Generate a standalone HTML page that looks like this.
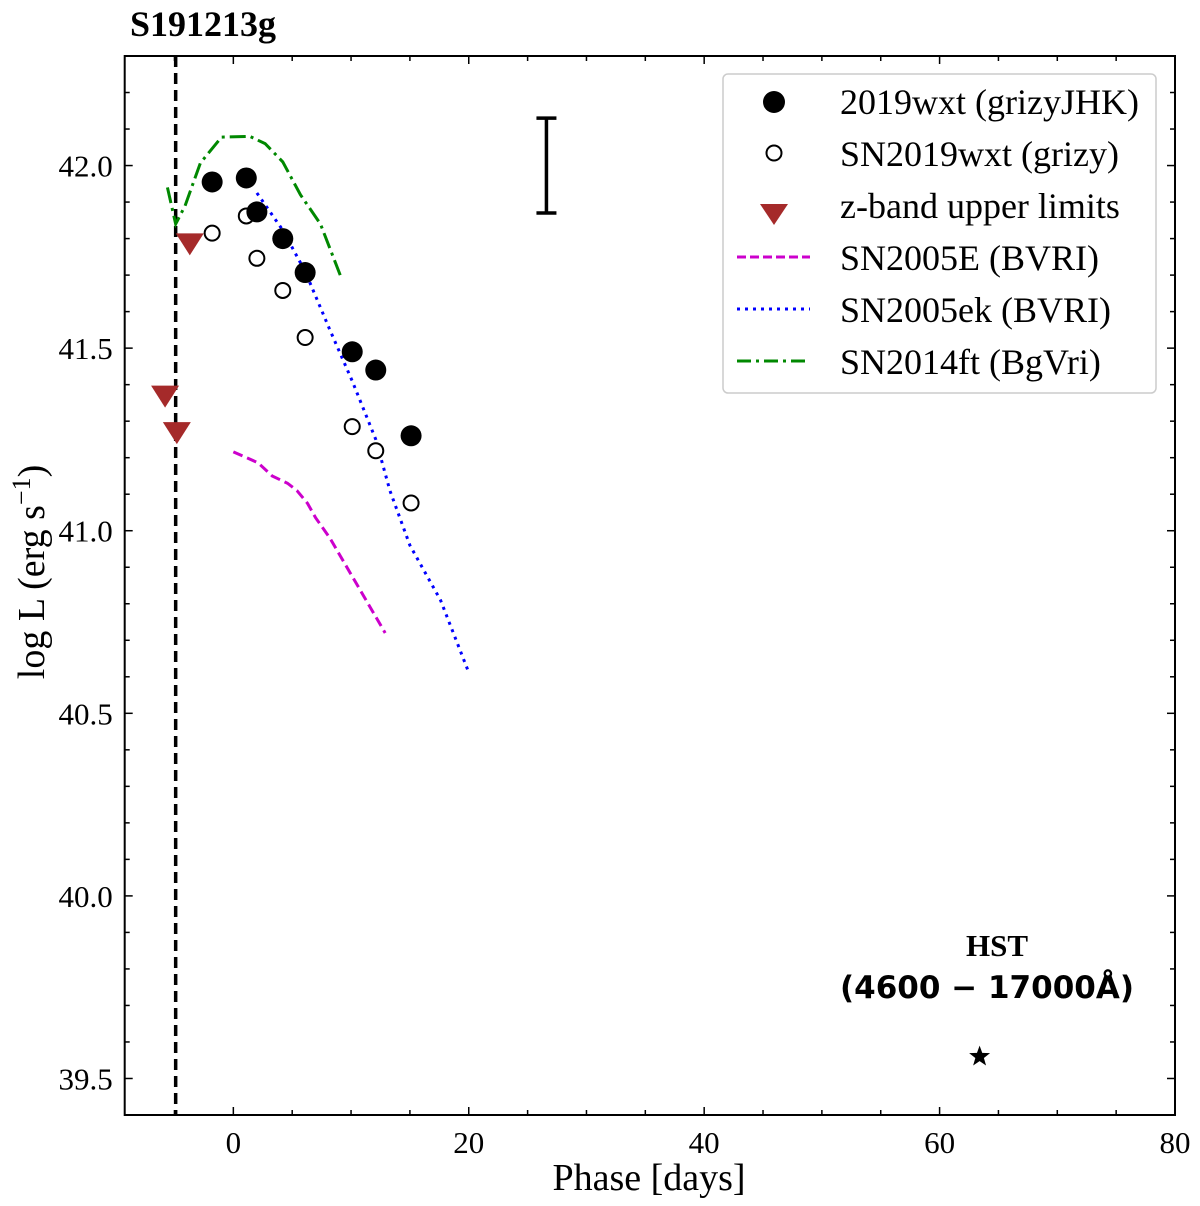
<!DOCTYPE html>
<html><head><meta charset="utf-8"><style>
html,body{margin:0;padding:0;background:#fff;}
svg{display:block;font-family:"Liberation Serif",serif;}
</style></head><body>
<svg id="chart" width="1200" height="1206" viewBox="0 0 1200 1206" xmlns="http://www.w3.org/2000/svg">
<text x="130" y="36" font-size="36" font-weight="bold">S191213g</text>
<g id="plot"></g>
<rect x="124.7" y="56" width="1050.3" height="1059" fill="none" stroke="#000" stroke-width="2"/>
<text x="649" y="1190" font-size="38" text-anchor="middle">Phase [days]</text>
<text transform="translate(44,572) rotate(-90)" font-size="38" text-anchor="middle">log L (erg s<tspan font-size="26" dy="-14">−1</tspan><tspan dy="14">)</tspan></text>
<g>
<rect x="723" y="74" width="433" height="319" rx="5" fill="#fff" stroke="#ccc" stroke-width="1.5"/>
<circle cx="774" cy="102" r="11" fill="#000"/>
<text x="840" y="114" font-size="36">2019wxt (grizyJHK)</text>
<circle cx="774" cy="153" r="7.5" fill="#fff" stroke="#000" stroke-width="2"/>
<text x="840" y="166" font-size="36">SN2019wxt (grizy)</text>
<polygon points="760,204 788,204 774,225" fill="#a52a2a"/>
<text x="840" y="218" font-size="36">z-band upper limits</text>
<line x1="737" y1="257" x2="810" y2="257" stroke="#c0c" stroke-width="3" stroke-dasharray="9,4"/>
<text x="840" y="270" font-size="36">SN2005E (BVRI)</text>
<line x1="737" y1="309" x2="810" y2="309" stroke="#00f" stroke-width="3" stroke-dasharray="3,5"/>
<text x="840" y="322" font-size="36">SN2005ek (BVRI)</text>
<line x1="737" y1="361" x2="810" y2="361" stroke="#080" stroke-width="3" stroke-dasharray="14,5,3,5"/>
<text x="840" y="374" font-size="36">SN2014ft (BgVri)</text>
</g>
<text x="997" y="956" font-size="31" font-weight="bold" text-anchor="middle">HST</text>
<text x="987" y="998" font-size="31" font-weight="bold" text-anchor="middle" font-family="DejaVu Sans, sans-serif">(4600 − 17000Å)</text>
</svg>
<script>
const filledX=[-1.8,1.1,2.0,4.2,6.1,10.1,12.1,15.1];
const filledY=[41.955,41.966,41.873,41.80,41.707,41.49,41.44,41.26];
const openX=[-1.8,1.1,2.0,4.2,6.1,10.1,12.1,15.1];
const openY=[41.815,41.862,41.746,41.658,41.529,41.285,41.219,41.076];
const limX=[-3.7,-5.8,-4.8];
const limY=[41.787,41.37,41.27];
const e05X=[0,2.1,3.3,4.6,5.4,6.3,7.0,8.2,12.9];
const e05Y=[41.216,41.186,41.15,41.13,41.11,41.075,41.035,40.98,40.72];
const ek05X=[2.0,4.2,6.1,8.2,10.1,12.1,13.3,15.0,17.6,19.9];
const ek05Y=[41.925,41.823,41.71,41.55,41.41,41.25,41.11,40.96,40.81,40.62];
const ft14X=[-5.6,-4.9,-4.1,-2.8,-1.0,1.4,2.7,4.2,5.7,7.4,9.2];
const ft14Y=[41.94,41.84,41.89,42.007,42.078,42.08,42.06,42.01,41.92,41.84,41.69];
const hstX=[63.4], hstY=[39.56];
const mergerX=-4.9;
const errBarX=26.6, errBarLo=41.87, errBarHi=42.13;
const xTicks=[0,20,40,60,80];
const yTicks=[39.5,40.0,40.5,41.0,41.5,42.0];
const xMin=-9.23,xMax=80,yMin=39.40,yMax=42.30;
const L=124.7,R=1175,T=56,B=1115;
const sx=v=>L+(v-xMin)/(xMax-xMin)*(R-L);
const sy=v=>B-(v-yMin)/(yMax-yMin)*(B-T);
const NS="http://www.w3.org/2000/svg";
const g=document.getElementById('plot');
function mk(tag,attrs){const e=document.createElementNS(NS,tag);for(const k in attrs)e.setAttribute(k,attrs[k]);g.appendChild(e);return e;}
for(let v=-5;v<=80;v+=5){const maj=v%20===0;
 let t=mk('line',{x1:sx(v),x2:sx(v),y1:B,y2:B-(maj?8:5),stroke:'#000','stroke-width':1.5});
 
 t=mk('line',{x1:sx(v),x2:sx(v),y1:T,y2:T+(maj?8:5),stroke:'#000','stroke-width':1.5});
 }
for(let i=0;i<=29;i++){const v=39.4+i*0.1;const maj=Math.abs((v*2)-Math.round(v*2))<1e-6;
 if(sy(v)<T-1)continue;
 let t=mk('line',{x1:L,x2:L+(maj?8:5),y1:sy(v),y2:sy(v),stroke:'#000','stroke-width':1.5});
 
 t=mk('line',{x1:R,x2:R-(maj?8:5),y1:sy(v),y2:sy(v),stroke:'#000','stroke-width':1.5});
 }
xTicks.forEach(v=>{const t=mk('text',{x:sx(v),y:B+38,'font-size':31,'text-anchor':'middle'});t.textContent=v;
 });
yTicks.forEach(v=>{const t=mk('text',{x:L-12,y:sy(v)+11,'font-size':31,'text-anchor':'end'});t.textContent=v.toFixed(1);
 });
let ml=mk('line',{x1:sx(mergerX),x2:sx(mergerX),y1:T,y2:B,stroke:'#000','stroke-width':3.5,'stroke-dasharray':'11,6'});

function line(xs,ys,col,dash,name){const p=mk('polyline',{points:xs.map((x,i)=>sx(x)+','+sy(ys[i])).join(' '),fill:'none',stroke:col,'stroke-width':3,'stroke-dasharray':dash});
 }
line(e05X,e05Y,'#c0c','10,5','sn2005e-line');
line(ek05X,ek05Y,'#00f','3,5','sn2005ek-line');
line(ft14X,ft14Y,'#080','16,5,3,5','sn2014ft-line');
openX.forEach((x,i)=>{const c=mk('circle',{cx:sx(x),cy:sy(openY[i]),r:7.5,fill:'#fff',stroke:'#000','stroke-width':2});
 });
filledX.forEach((x,i)=>{const c=mk('circle',{cx:sx(x),cy:sy(filledY[i]),r:10.5,fill:'#000'});
 });
limX.forEach((x,i)=>{const cx=sx(x),cy=sy(limY[i]);const p=mk('polygon',{points:`${cx-14},${cy-10} ${cx+14},${cy-10} ${cx},${cy+12}`,fill:'#a52a2a'});
 });
const ex=sx(errBarX);
let eb=mk('path',{d:`M${ex},${sy(errBarHi)}V${sy(errBarLo)}M${ex-10},${sy(errBarHi)}H${ex+10}M${ex-10},${sy(errBarLo)}H${ex+10}`,stroke:'#000','stroke-width':3.5,fill:'none'});

hstX.forEach((x,i)=>{const cx=sx(x),cy=sy(hstY[i]);let pts=[];for(let k=0;k<10;k++){const r=k%2?4.5:11;const a=-Math.PI/2+k*Math.PI/5;pts.push((cx+r*Math.cos(a))+','+(cy+r*Math.sin(a)));}
 const s=mk('polygon',{points:pts.join(' '),fill:'#000'});});
</script>
</body></html>
